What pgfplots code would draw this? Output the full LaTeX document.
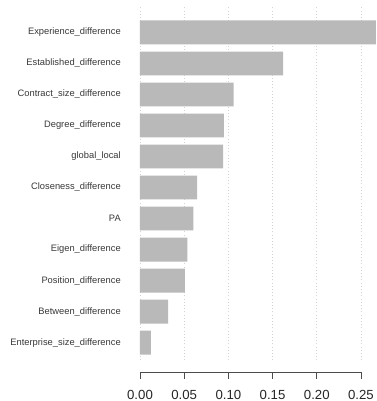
\documentclass[border=0pt]{standalone}
\usepackage{fontspec}
\setmainfont{Liberation Sans}
\usepackage{pgfplots}
\pgfplotsset{compat=1.18}
\definecolor{barg}{RGB}{185,185,185}
\definecolor{gridg}{RGB}{210,210,210}
\definecolor{txt}{RGB}{55,55,55}
\begin{document}
\begin{tikzpicture}
\useasboundingbox (0,0) rectangle (282pt,300.75pt);
\begin{axis}[
  at={(105pt,30.75pt)}, anchor=south west,
  scale only axis, width=177pt, height=264.75pt,
  xmin=0, xmax=0.267, ymin=-0.56, ymax=10.82,
  axis line style={draw=none},
  xbar, bar width=0.77, bar shift=0pt,
  xtick={0,0.05,0.1,0.15,0.2,0.25},
  xticklabels={0.00,0.05,0.10,0.15,0.20,0.25},
  xmajorgrids, grid style={gridg, dotted, line width=0.5pt},
  major tick length=0pt,
  xticklabel style={anchor=center, yshift=-26.5pt, font=\fontsize{9.9}{11}\selectfont, text=black!85, inner sep=0pt},
  ytick={0,...,10},
  yticklabels={Enterprise\_size\_difference,Between\_difference,Position\_difference,Eigen\_difference,PA,Closeness\_difference,global\_local,Degree\_difference,Contract\_size\_difference,Established\_difference,Experience\_difference},
  yticklabel style={anchor=east, inner sep=0pt, xshift=-14.25pt, font=\fontsize{7}{8}\selectfont, text=txt},
  clip mode=individual,
]
\addplot[fill=barg, draw=none] coordinates {
(0.0124,0) (0.0317,1) (0.0509,2) (0.0535,3) (0.0603,4) (0.0645,5) (0.094,6) (0.095,7) (0.106,8) (0.162,9) (0.28,10)};
\draw[black!70, line width=0.6pt] ([yshift=-9pt]axis cs:0,-0.56) -- ([yshift=-9pt]axis cs:0.25,-0.56);
\draw[black!70, line width=0.6pt] ([yshift=-9pt]axis cs:0,-0.56) -- ([yshift=-14.25pt]axis cs:0,-0.56);
\draw[black!70, line width=0.6pt] ([yshift=-9pt]axis cs:0.05,-0.56) -- ([yshift=-14.25pt]axis cs:0.05,-0.56);
\draw[black!70, line width=0.6pt] ([yshift=-9pt]axis cs:0.10,-0.56) -- ([yshift=-14.25pt]axis cs:0.10,-0.56);
\draw[black!70, line width=0.6pt] ([yshift=-9pt]axis cs:0.15,-0.56) -- ([yshift=-14.25pt]axis cs:0.15,-0.56);
\draw[black!70, line width=0.6pt] ([yshift=-9pt]axis cs:0.20,-0.56) -- ([yshift=-14.25pt]axis cs:0.20,-0.56);
\draw[black!70, line width=0.6pt] ([yshift=-9pt]axis cs:0.25,-0.56) -- ([yshift=-14.25pt]axis cs:0.25,-0.56);
\end{axis}
\end{tikzpicture}
\end{document}
